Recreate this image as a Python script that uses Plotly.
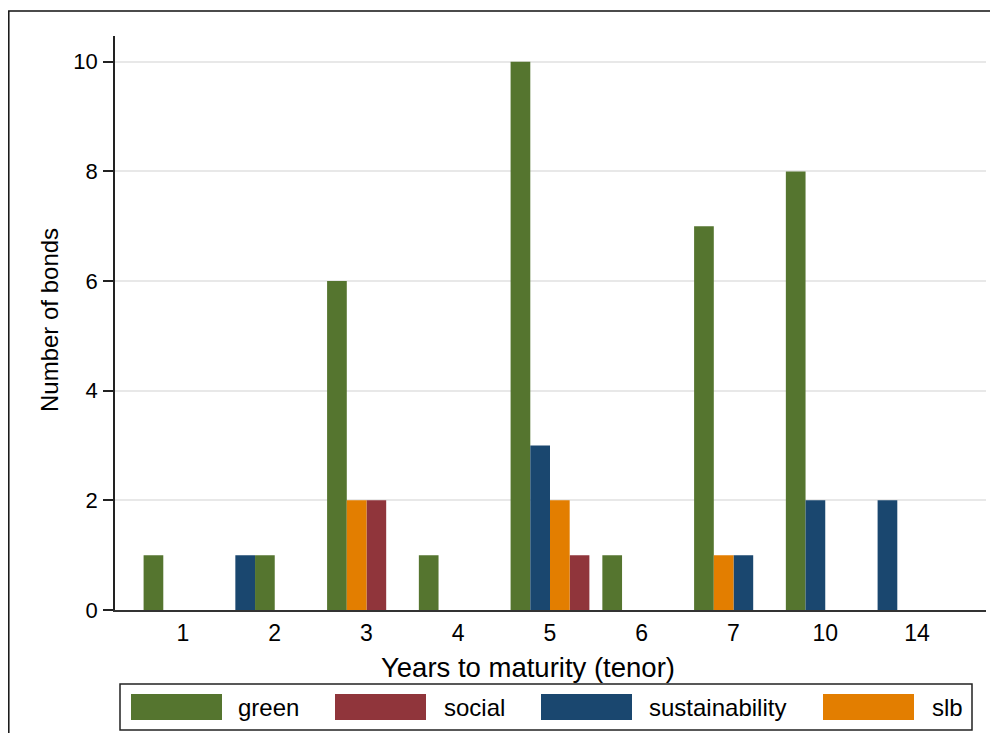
import plotly.graph_objects as go

# ---- data ----
categories = ["1", "2", "3", "4", "5", "6", "7", "10", "14"]
series_names = ["green", "social", "sustainability", "slb"]
green = [1, 1, 6, 1, 10, 1, 7, 8, 0]
social = [0, 0, 2, 0, 1, 0, 0, 0, 0]
sustainability = [0, 1, 0, 0, 3, 0, 1, 2, 2]
slb = [0, 0, 2, 0, 2, 0, 1, 0, 0]
# order in which the (non-empty) bars appear inside each tenor group
bar_order = [
    ["green"],
    ["sustainability", "green"],
    ["green", "slb", "social"],
    ["green"],
    ["green", "sustainability", "slb", "social"],
    ["green"],
    ["green", "slb", "sustainability"],
    ["green", "sustainability"],
    ["sustainability"],
]
yticks = [0, 2, 4, 6, 8, 10]

values = {"green": green, "social": social, "sustainability": sustainability, "slb": slb}
colors = {"green": "#55752f", "social": "#90353b", "sustainability": "#1a476f", "slb": "#e37e00"}

OFF = 8  # page body margin
W, H = 990, 725
L, R, T, B = 107, 12, 28, 123
PW, PH = W - L - R, H - T - B

def px(x_screen):
    return (x_screen - OFF - L) / PW

def py(y_screen):
    return (H - B - (y_screen - OFF)) / PH

bw = 0.2147
fig = go.Figure()
for name in series_names:
    xs, ys = [], []
    for ci, order in enumerate(bar_order):
        if name in order:
            slot = order.index(name)
            xs.append(ci - 2 * bw + bw / 2 + slot * bw)
            ys.append(values[name][ci])
    fig.add_trace(go.Bar(x=xs, y=ys, width=bw, name=name,
                         marker=dict(color=colors[name], line=dict(width=0)),
                         showlegend=False))

font_family = "Liberation Sans, Arial, sans-serif"
fig.update_layout(
    width=W, height=H,
    margin=dict(l=L, r=R, t=T, b=B, pad=0),
    paper_bgcolor="white", plot_bgcolor="white",
    barmode="overlay",
    font=dict(family=font_family, color="black"),
    xaxis=dict(range=[-0.741, 8.752], tickmode="array",
               tickvals=list(range(len(categories))), ticktext=categories,
               ticks="", showgrid=False, zeroline=False,
               showline=True, linecolor="#333333", linewidth=2,
               tickfont=dict(size=23, color="black"), ticklabelstandoff=1),
    yaxis=dict(range=[0, 10.47], tickmode="array", tickvals=yticks,
               ticktext=[str(v) for v in yticks],
               ticks="outside", ticklen=10, tickwidth=1.5, tickcolor="#222222",
               showgrid=True, gridcolor="#e8e8e8", gridwidth=1.5, zeroline=False,
               showline=True, linecolor="#222222", linewidth=1.5,
               tickfont=dict(size=22, color="black"), ticklabelstandoff=1),
)

annotations = [
    dict(text="Years to maturity (tenor)", x=px(528), y=py(667), xref="paper", yref="paper",
         xanchor="center", yanchor="middle", showarrow=False, font=dict(size=27.5)),
    dict(text="Number of bonds", x=px(49), y=py(320), xref="paper", yref="paper",
         xanchor="center", yanchor="middle", textangle=-90, showarrow=False, font=dict(size=24)),
]
shapes = [
    dict(type="rect", xref="paper", yref="paper", x0=px(8.8), x1=px(1020), y0=py(11), y1=py(760),
         line=dict(color="#111111", width=1.5), fillcolor="rgba(0,0,0,0)", layer="below"),
    dict(type="rect", xref="paper", yref="paper", x0=px(120), x1=px(972), y0=py(684), y1=py(730),
         line=dict(color="#222222", width=1.5), fillcolor="white"),
]
swatch_x = [131, 335, 541, 823]
text_x = [236, 442, 647, 930]
for name, sx, tx in zip(series_names, swatch_x, text_x):
    shapes.append(dict(type="rect", xref="paper", yref="paper", x0=px(sx), x1=px(sx + 91),
                       y0=py(694), y1=py(720), line=dict(width=0), fillcolor=colors[name]))
    annotations.append(dict(text=name, x=px(tx), y=py(707), xref="paper", yref="paper",
                            xanchor="left", yanchor="middle", showarrow=False,
                            font=dict(size=24)))
fig.update_layout(annotations=annotations, shapes=shapes)

fig.write_html("out.html")
